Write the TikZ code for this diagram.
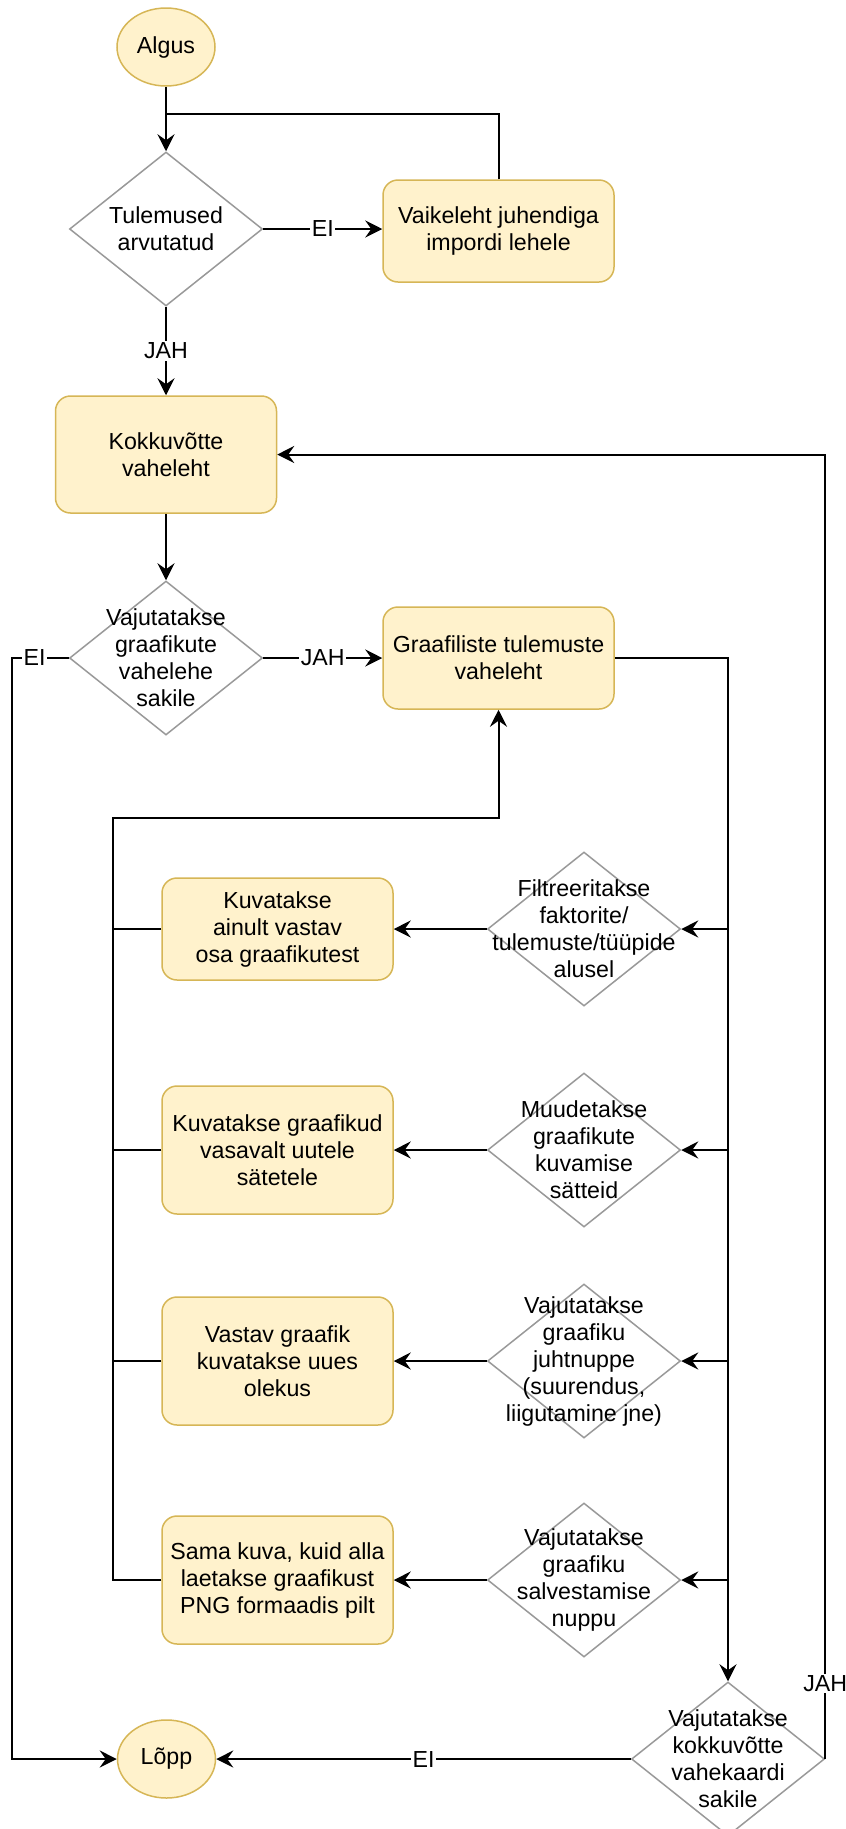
\documentclass[tikz,border=0pt]{standalone}
\usepackage{fontspec}
\setmainfont{Liberation Sans}
\usetikzlibrary{shapes.geometric,arrows.meta}
\definecolor{boxfill}{HTML}{FFF2CC}
\definecolor{boxline}{HTML}{D6B656}
\definecolor{decline}{HTML}{999999}
\begin{document}
\begin{tikzpicture}[x=1pt,y=-1pt,
  every node/.style={font=\fontsize{23.2}{27}\selectfont},
  term/.style={ellipse, draw=boxline, fill=boxfill, line width=1.5pt,
    minimum width=98pt, minimum height=78pt, inner sep=0pt},
  proc/.style={rectangle, rounded corners=15pt, draw=boxline, fill=boxfill,
    line width=1.5pt, minimum width=231pt, minimum height=102pt,
    align=center, inner sep=0pt},
  dec/.style={diamond, draw=decline, fill=white, line width=1.5pt,
    minimum width=193pt, minimum height=154pt, inner sep=0pt},
  dtext/.style={align=center, inner sep=0pt},
  lbl/.style={fill=white, inner sep=1.5pt},
  conn/.style={line width=2pt, draw=black},
  arr/.style={conn, -{Stealth[length=17pt,width=17pt,inset=6pt]}},
]
\useasboundingbox (0,0) rectangle (846,1829);

% start, first check and import page
\node[term] (start) at (166,47) {Algus};
\node[dec] (d1) at (166,229) {};
\node[dtext] (d1t) at (d1) {Tulemused\\arvutatud};
\node[proc] (vaik) at (498.5,231) {Vaikeleht juhendiga\\impordi lehele};
\coordinate (j1) at (166,114);

% summary tab and tab switch
\node[proc, minimum width=221pt, minimum height=117pt] (kokku) at (166,454.5) {Kokkuvõtte\\vaheleht};
\node[dec] (d2) at (166,658) {};
\node[dtext] (d2t) at (d2) {Vajutatakse\\graafikute\\vahelehe\\sakile};
\node[proc] (graaf) at (498.5,658) {Graafiliste tulemuste\\vaheleht};

% actions on the graph tab
\node[dec] (f1) at (584,929) {};
\node[dtext] (f1t) at (f1) {Filtreeritakse\\faktorite/\\tulemuste/tüüpide\\alusel};
\node[proc] (k1) at (277.5,929) {Kuvatakse\\ainult vastav\\osa graafikutest};

\node[dec] (f2) at (584,1150) {};
\node[dtext] (f2t) at (f2) {Muudetakse\\graafikute\\kuvamise\\sätteid};
\node[proc, minimum height=128pt] (k2) at (277.5,1150) {Kuvatakse graafikud\\vasavalt uutele\\sätetele};

\node[dec] (f3) at (584,1361) {};
\node[dtext] (f3t) at (f3) {Vajutatakse\\graafiku\\juhtnuppe\\(suurendus,\\liigutamine jne)};
\node[proc, minimum height=128pt] (k3) at (277.5,1361) {Vastav graafik\\kuvatakse uues\\olekus};

\node[dec] (f4) at (584,1580) {};
\node[dtext] (f4t) at (f4) {Vajutatakse\\graafiku\\salvestamise\\nuppu};
\node[proc, minimum height=128pt] (k4) at (277.5,1580) {Sama kuva, kuid alla\\laetakse graafikust\\PNG formaadis pilt};

% back to summary / end
\node[dec] (d5) at (728,1759) {};
\node[dtext] (d5t) at (d5) {Vajutatakse\\kokkuvõtte\\vahekaardi\\sakile};
\node[term] (end) at (166.5,1759) {Lõpp};

\coordinate (leftrail) at (12,658);
\coordinate (lb) at (113,818);

% connectors
\draw[arr] (start.south) -- (d1.north);
\draw[conn] (vaik.north) |- (j1);
\draw[arr] (d1.east) -- node[lbl]{EI} (d1.east -| vaik.west);
\draw[arr] (d1.south) -- node[lbl]{JAH} (kokku.north);
\draw[arr] (kokku.south) -- (d2.north);
\draw[arr] (d2.west) -- node[lbl,pos=0.6]{EI} (leftrail) |- (end.west);
\draw[arr] (d2.east) -- node[lbl]{JAH} (graaf.west);
\draw[arr] (graaf.east) -| (d5.north);

\foreach \f/\k in {f1/k1,f2/k2,f3/k3,f4/k4}{
  \draw[arr] (\f.east -| d5.north) -- (\f.east);
  \draw[arr] (\f.west) -- (\k.east);
}
\foreach \k in {k1,k2,k3}{
  \draw[conn] (\k.west) -- (\k.west -| lb);
}
\draw[arr] (k4.west) -| (lb) -| (graaf.south);

\draw[arr] (d5.west) -- node[lbl]{EI} (end.east);
\draw[arr] (d5.east) -- node[lbl,pos=0.058]{JAH} (d5.east |- kokku.east) -- (kokku.east);
\end{tikzpicture}
\end{document}
